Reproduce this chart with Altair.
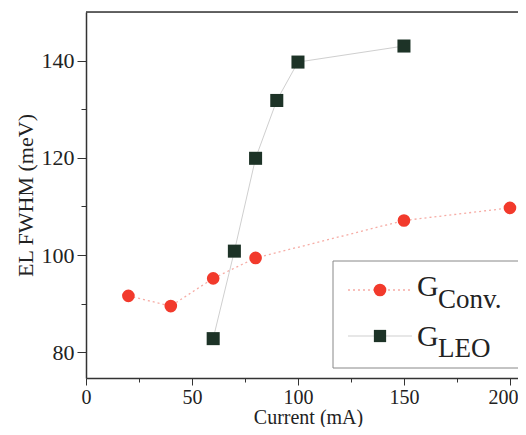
import altair as alt
import pandas as pd

conv_x = [20, 40, 60, 80, 150, 200]
conv_y = [91.6, 89.5, 95.2, 99.4, 107.1, 109.7]
leo_x = [60, 70, 80, 90, 100, 150]
leo_y = [82.8, 100.8, 119.9, 131.8, 139.7, 143.0]

x_ticks = [0, 25, 50, 75, 100, 125, 150, 175, 200]
y_ticks = [80, 90, 100, 110, 120, 130, 140]

W, H = 432, 366
FONT = "Liberation Serif"
RED = "#f23a2c"
DARK = "#1d3327"

conv = pd.DataFrame({"x": conv_x, "y": conv_y})
leo = pd.DataFrame({"x": leo_x, "y": leo_y})
dummy = pd.DataFrame({"a": [0]})

xs = alt.Scale(domain=[0, 203.8], nice=False, zero=False)
ys = alt.Scale(domain=[74.7, 150], nice=False, zero=False)

x_axis = alt.Axis(
    values=x_ticks, title="Current (mA)", grid=False,
    labelExpr="datum.value % 50 === 0 ? datum.label : ''",
    tickSize={"condition": {"test": "datum.value % 50 !== 0", "value": 4}, "value": 7},
    labelOffset={"condition": {"test": "datum.value === 200", "value": -7}, "value": 0},
    labelFont=FONT, labelFontSize=20, labelColor="#222", labelPadding=2,
    titleFont=FONT, titleFontSize=20, titleFontWeight="normal", titleColor="#222",
    titleX=222, titleY=45, titleBaseline="alphabetic", titleAnchor="middle",
    domainColor="#333", tickColor="#333", domainWidth=1.5,
    labelFlush=False, labelOverlap=False,
)
y_axis = alt.Axis(
    values=y_ticks, title="EL FWHM (meV)", grid=False,
    labelExpr="datum.value % 20 === 0 ? datum.label : ''",
    tickSize={"condition": {"test": "datum.value % 20 !== 0", "value": 5}, "value": 9},
    labelFont=FONT, labelFontSize=22, labelColor="#222", labelPadding=3,
    titleFont=FONT, titleFontSize=22, titleFontWeight="normal", titleColor="#222",
    titleX=-61, titleY=183, titleBaseline="middle", titleAngle=270, titleAnchor="middle",
    domainColor="#333", tickColor="#333", domainWidth=1.5,
    labelFlush=False, labelOverlap=False,
)

conv_line = alt.Chart(conv).mark_line(color="#f6aca5", strokeDash=[2, 3], strokeWidth=1.3).encode(
    x=alt.X("x:Q", scale=xs, axis=x_axis), y=alt.Y("y:Q", scale=ys, axis=y_axis))
leo_line = alt.Chart(leo).mark_line(color="#cfcfcf", strokeWidth=1).encode(
    x=alt.X("x:Q", scale=xs), y=alt.Y("y:Q", scale=ys))
conv_pts = alt.Chart(conv).mark_circle(size=160, color=RED, opacity=1).encode(
    x=alt.X("x:Q", scale=xs), y=alt.Y("y:Q", scale=ys))
leo_pts = alt.Chart(leo).mark_square(size=170, color=DARK, opacity=1).encode(
    x=alt.X("x:Q", scale=xs), y=alt.Y("y:Q", scale=ys))

# top frame line
top = alt.Chart(dummy).mark_rule(color="#333", strokeWidth=1.5).encode(
    x=alt.value(0), x2=alt.value(W), y=alt.value(0))

# legend
box = alt.Chart(dummy).mark_rect(fill="white", stroke="#888", strokeWidth=1).encode(
    x=alt.value(247), x2=alt.value(W + 10), y=alt.value(249), y2=alt.value(356))
l1 = alt.Chart(dummy).mark_rule(color="#f6aca5", strokeDash=[2, 3], strokeWidth=1.3).encode(
    x=alt.value(262), x2=alt.value(326), y=alt.value(278))
p1 = alt.Chart(dummy).mark_circle(size=160, color=RED, opacity=1).encode(
    x=alt.value(294), y=alt.value(278))
l2 = alt.Chart(dummy).mark_rule(color="#cfcfcf", strokeWidth=1).encode(
    x=alt.value(262), x2=alt.value(326), y=alt.value(324))
p2 = alt.Chart(dummy).mark_square(size=150, color=DARK, opacity=1).encode(
    x=alt.value(294), y=alt.value(324))

def txt(s, x, y, size):
    return alt.Chart(dummy).mark_text(text=s, font=FONT, fontSize=size, color="#222",
                                      align="left", baseline="alphabetic").encode(
        x=alt.value(x), y=alt.value(y))

t1 = txt("G", 331, 284, 30)
t1s = txt("Conv.", 352, 296, 27)
t2 = txt("G", 331, 334, 30)
t2s = txt("LEO", 352, 345, 27)

chart = alt.layer(
    conv_line, leo_line, conv_pts, leo_pts, top,
    box, l1, p1, l2, p2, t1, t1s, t2, t2s,
).properties(
    width=W, height=H,
    autosize=alt.AutoSizeParams(type="none"),
    padding={"left": 78, "top": 4, "right": 0, "bottom": 49},
).configure_view(stroke=None).configure(background="white")

chart.save("out.html", embed_options={"renderer": "svg", "actions": False})
